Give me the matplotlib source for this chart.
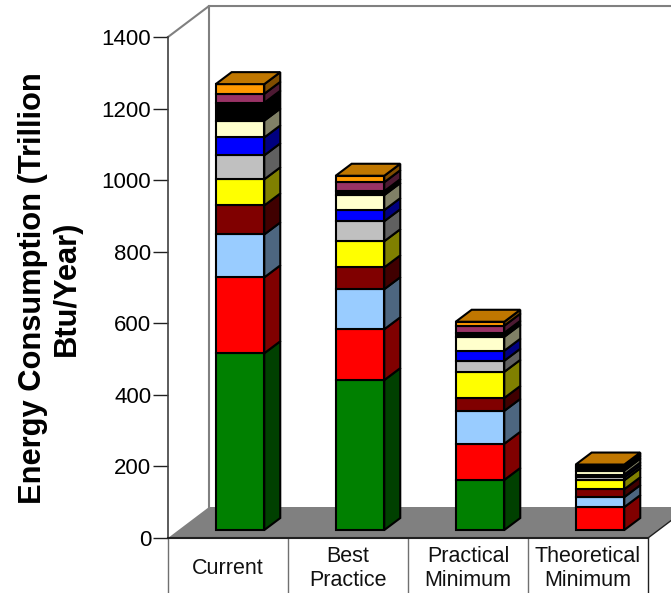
import matplotlib
matplotlib.use("Agg")
import matplotlib.pyplot as plt
from matplotlib.patches import Polygon

plt.rcParams['font.family'] = ['Liberation Sans', 'DejaVu Sans']

categories = ["Current", "Best\nPractice", "Practical\nMinimum", "Theoretical\nMinimum"]
yticks = [0, 200, 400, 600, 800, 1000, 1200, 1400]

# stacked from the bottom up (Trillion Btu/Year)
green = [494, 419, 140, 0]
red = [212, 142, 101, 64]
light_blue = [120, 112, 92, 28]
dark_red = [81, 61, 36, 22]
yellow = [73, 73, 73, 25]
grey = [67, 56, 31, 8]
blue = [50, 31, 28, 8]
cream = [47, 42, 39, 11]
black = [50, 11, 11, 8]
purple = [25, 25, 20, 6]
orange = [27, 18, 11, 3]

series = [green, red, light_blue, dark_red, yellow, grey, blue, cream, black, purple, orange]
front_colors = ['#008000', '#ff0000', '#99ccff', '#800000', '#ffff00', '#c0c0c0',
                '#0000ff', '#ffffcc', '#000000', '#993366', '#ff9900']
side_colors = ['#004000', '#800000', '#4d6680', '#400000', '#808000', '#606060',
               '#000080', '#808066', '#000000', '#4d1a33', '#804d00']
top_color = '#c07700'

# 3d look, in axis units
wall_dx, wall_dy = 0.342, 86.6
bar_dx, bar_dy = 0.133, 33.5
base_dx, base_dy = 0.1, 22.3
bar_w = 0.405

fig = plt.figure(figsize=(6.71, 5.93), dpi=100)
ax = fig.add_axes([168 / 671, 1 - 538 / 593, 480 / 671, 501 / 593])
ax.set_xlim(-0.5, 3.5)
ax.set_ylim(0, 1400)

# floor and back walls
ax.add_patch(Polygon([(-0.5, 0), (3.5, 0), (3.5 + wall_dx, wall_dy), (-0.5 + wall_dx, wall_dy)],
                     closed=True, facecolor='#808080', edgecolor='none', clip_on=False, zorder=1))
wall_x = -0.5 + wall_dx
ax.plot([wall_x, wall_x], [wall_dy, 1400 + wall_dy], color='#808080', lw=1.5, clip_on=False, zorder=1)
ax.plot([-0.5, wall_x, 3.5 + wall_dx], [1400, 1400 + wall_dy, 1400 + wall_dy],
        color='#808080', lw=1.5, clip_on=False, zorder=1)

# stacks
for i in range(len(categories)):
    left = i + base_dx - bar_w / 2
    right = left + bar_w
    bottom = base_dy
    for vals, fc, sc in zip(series, front_colors, side_colors):
        v = vals[i]
        if v == 0:
            continue
        ax.bar(left, v, width=bar_w, bottom=bottom, align='edge', color=fc,
               edgecolor='black', linewidth=1.5, clip_on=False, zorder=3)
        ax.add_patch(Polygon([(right, bottom), (right + bar_dx, bottom + bar_dy),
                              (right + bar_dx, bottom + v + bar_dy), (right, bottom + v)],
                             closed=True, facecolor=sc, edgecolor='black', linewidth=1.5,
                             clip_on=False, zorder=3))
        bottom += v
    ax.add_patch(Polygon([(left, bottom), (right, bottom), (right + bar_dx, bottom + bar_dy),
                          (left + bar_dx, bottom + bar_dy)],
                         closed=True, facecolor=top_color, edgecolor='black', linewidth=1.5,
                         clip_on=False, zorder=3))

# axes
for s in ['top', 'right']:
    ax.spines[s].set_visible(False)
ax.spines['left'].set_color('#404040')
ax.spines['left'].set_linewidth(1.2)
ax.spines['bottom'].set_color('#202020')
ax.spines['bottom'].set_linewidth(1.5)
ax.spines['left'].set_zorder(2)
ax.spines['bottom'].set_zorder(2)
ax.set_yticks(yticks)
ax.tick_params(axis='y', length=11, width=1.0, color='#202020', labelsize=16, pad=1)
ax.set_xticks([])

# category dividers and the right hand corner of the table
trans = ax.get_xaxis_transform()
for k in range(5):
    ax.plot([k - 0.5, k - 0.5], [0, -0.12], transform=trans, color='#707070' if k < 4 else '#202020',
            lw=1.0, clip_on=False)
ax.plot([3.5, 3.5 + wall_dx], [0, wall_dy], color='#202020', lw=1.0, clip_on=False, zorder=2)

for i, name in enumerate(categories):
    ax.text(i, -0.061, name, transform=trans, ha='center', va='center',
            fontsize=15.5, color='#111111', linespacing=1.2)

fig.text(50 / 671, 1 - 288 / 593, "Energy Consumption (Trillion\nBtu/Year)", rotation=90,
         ha='center', va='center', multialignment='center', fontsize=22.2,
         fontweight='bold', linespacing=1.15)

fig.savefig("out.png", dpi=100)
